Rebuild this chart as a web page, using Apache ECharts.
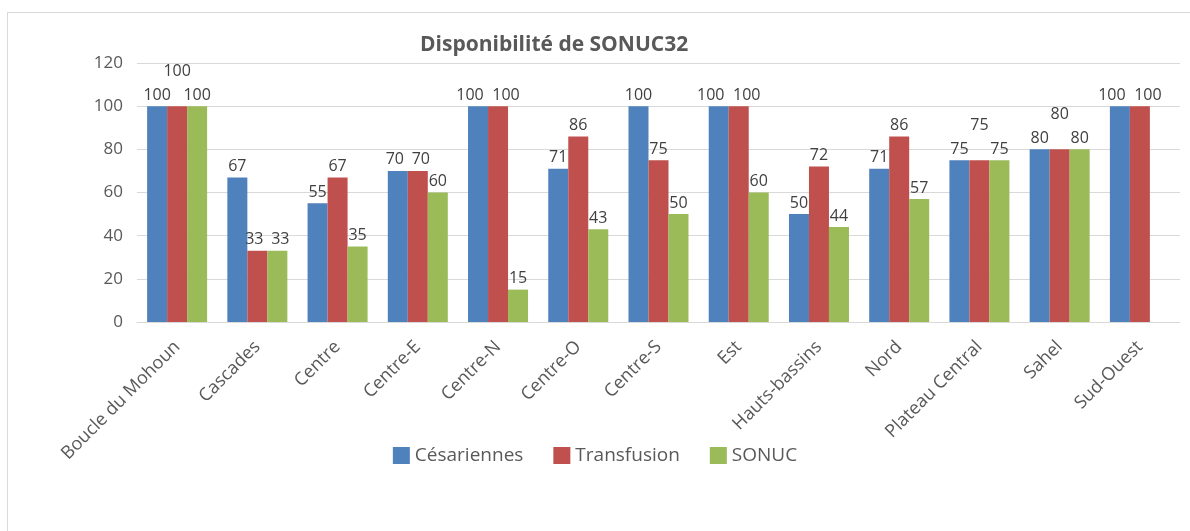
<!DOCTYPE html>
<html>
<head>
<meta charset="utf-8">
<script src="https://cdn.jsdelivr.net/npm/echarts@6/dist/echarts.min.js"></script>
<style>
html, body { margin: 0; padding: 0; background: #ffffff; }
#frame {
	position: absolute;
	left: 7px;
	top: 12px;
	width: 1200px;
	height: 540px;
	border: 1px solid #d9d9d9;
}
#chart { position: absolute; left: 0; top: 0; width: 1190px; height: 531px; }
</style>
</head>
<body>
<div id="frame"></div>
<div id="chart"></div>
<script>
// régions
const categories = ["Boucle du Mohoun", "Cascades", "Centre", "Centre-E", "Centre-N", "Centre-O", "Centre-S", "Est", "Hauts-bassins", "Nord", "Plateau Central", "Sahel", "Sud-Ouest"]
const cesariennes = [100, 67, 55, 70, 100, 71, 100, 100, 50, 71, 75, 80, 100]
const transfusion = [100, 33, 67, 70, 100, 86, 75, 100, 72, 86, 75, 80, 100]
const sonuc = [100, 33, 35, 60, 15, 43, 50, 60, 44, 57, 75, 80, null]
const yTicks = [0, 20, 40, 60, 80, 100, 120]

const font = "'Open Sans', 'Noto Sans', sans-serif"
const allSeries = [cesariennes, transfusion, sonuc]

// décale les étiquettes qui se chevauchent (comme Excel)
function layoutFor(s) {
	return function(params) {
		const i = params.dataIndex
		const v = allSeries[s][i]
		const left = s > 0 ? allSeries[s - 1][i] : null
		const right = s < 2 ? allSeries[s + 1][i] : null
		const leftLeft = s > 1 ? allSeries[s - 2][i] : null
		const rightRight = s < 1 ? allSeries[s + 2][i] : null
		if (left === v && right === v) return { dy: -24 }
		const shift = v >= 100 ? 8 : 3
		if (left === v && leftLeft !== v) return { dx: shift }
		if (right === v && rightRight !== v) return { dx: -shift }
		return {}
	}
}

function makeSeries(name, data, s) {
	return {
		name: name,
		type: "bar",
		data: data,
		barWidth: 20,
		barGap: "0%",
		label: {
			show: true,
			position: "top",
			distance: 3,
			fontSize: 16,
			fontFamily: font,
			color: "#404040",
		},
		labelLayout: layoutFor(s),
	}
}

let myChart = echarts.init(document.getElementById("chart"))
let option = {
	animation: false,
	color: ["#4F81BD", "#C0504D", "#9BBB59"],
	title: {
		text: "Disponibilité de SONUC32",
		left: 415,
		top: 30,
		textStyle: {
			fontSize: 21,
			fontWeight: "bold",
			fontFamily: font,
			color: "#595959",
		},
	},
	legend: {
		left: "center",
		top: 441,
		itemWidth: 17,
		itemHeight: 17,
		itemGap: 30,
		icon: "rect",
		textStyle: { fontSize: 19, fontFamily: font, color: "#595959" },
	},
	grid: {
		left: 137,
		right: 10,
		top: 63,
		height: 259,
		containLabel: false,
	},
	xAxis: {
		type: "category",
		data: categories,
		axisTick: { show: false },
		axisLine: { lineStyle: { color: "#d9d9d9" } },
		axisLabel: {
			rotate: 45,
			interval: 0,
			margin: 22,
			fontSize: 18,
			fontFamily: font,
			color: "#595959",
		},
	},
	yAxis: {
		type: "value",
		min: yTicks[0],
		max: yTicks[yTicks.length - 1],
		interval: 20,
		axisLine: { show: false },
		axisTick: { show: false },
		splitLine: { lineStyle: { color: "#d9d9d9" } },
		axisLabel: {
			margin: 14,
			fontSize: 17,
			fontFamily: font,
			color: "#595959",
		},
	},
	series: [
		makeSeries("Césariennes", cesariennes, 0),
		makeSeries("Transfusion", transfusion, 1),
		makeSeries("SONUC", sonuc, 2),
	],
}
myChart.setOption(option)
</script>
</body>
</html>
